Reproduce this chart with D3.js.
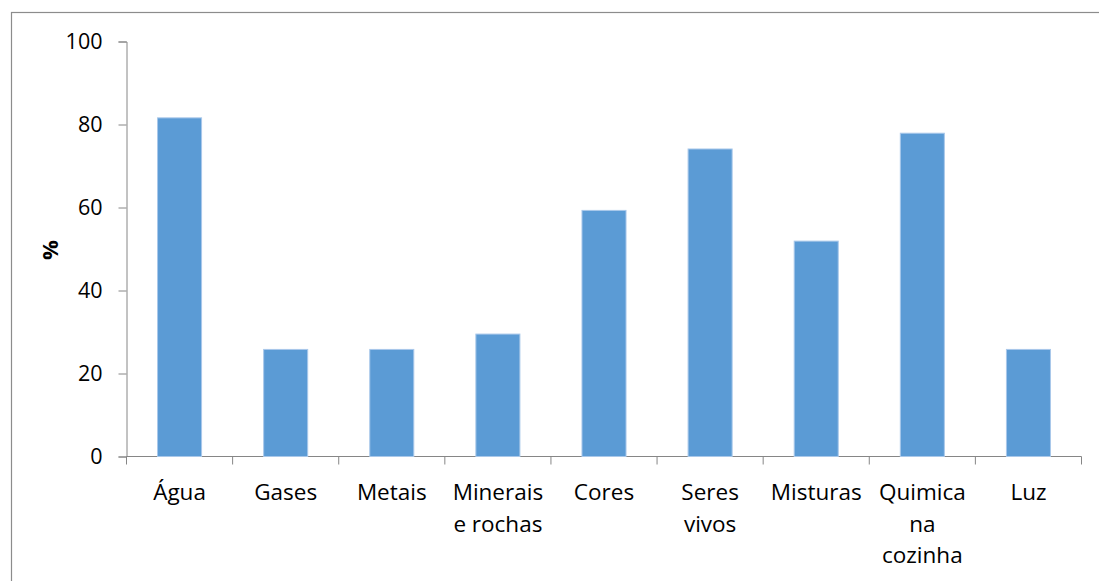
<!DOCTYPE html>
<html><head><meta charset="utf-8">
<script src="https://cdn.jsdelivr.net/npm/d3@7/dist/d3.min.js"></script>
<style>body{margin:0;background:#fff}svg{display:block}text{font-family:"Open Sans","Noto Sans",sans-serif}</style>
</head><body><svg id="c" width="1099" height="581"></svg>
<script>
const categories = ["Água","Gases","Metais","Minerais\ne rochas","Cores","Seres\nvivos","Misturas","Quimica\nna\ncozinha","Luz"];
const values = [81.6, 25.8, 25.8, 29.5, 59.3, 74.1, 51.9, 77.9, 25.8];
const yTicks = [0, 20, 40, 60, 80, 100];
const yLabel = "%";

const svg = d3.select("#c");
svg.append("rect").attr("x",11.5).attr("y",12.5).attr("width",1100).attr("height",600)
  .attr("fill","none").attr("stroke","#8c8c8c").attr("stroke-width",1.2);

const x = d3.scaleBand().domain(categories).range([126.5, 1081.5]).paddingInner(0.585).paddingOuter(0.2925);
const y = d3.scaleLinear().domain([0,100]).range([456.5, 41.5]);

const yAxis = svg.append("g").attr("transform","translate(126.5,0)")
  .call(d3.axisLeft(y).tickValues(yTicks).tickSize(8).tickPadding(16));
yAxis.selectAll("path,line").attr("stroke","#868686");
yAxis.selectAll("text").attr("font-size",21.5).attr("fill","#000");

const xb = d3.scaleBand().domain(categories).range([126.5,1081.5]);
const xAxis = svg.append("g").attr("transform","translate(0,456.5)");
xAxis.append("line").attr("x1",126.5).attr("x2",1081.5).attr("stroke","#868686");
xAxis.selectAll("line.t").data(categories.concat(["_end"])).enter().append("line")
  .attr("x1",(d,i)=> i<categories.length ? xb(d) : 1081.5)
  .attr("x2",(d,i)=> i<categories.length ? xb(d) : 1081.5)
  .attr("y1",0).attr("y2",8).attr("stroke","#868686");

svg.append("g").selectAll("rect").data(categories).enter().append("rect")
  .attr("x", d=>x(d)).attr("width", x.bandwidth())
  .attr("y", (d,i)=>y(values[i])).attr("height",(d,i)=>y(0)-y(values[i]))
  .attr("fill","#5b9bd5").attr("stroke","#a9c8ea").attr("stroke-width",1);

const lbl = svg.append("g").selectAll("text").data(categories).enter().append("text")
  .attr("x", d=>xb(d)+xb.bandwidth()/2).attr("y",500).attr("text-anchor","middle")
  .attr("font-size",22.5).attr("fill","#000");
lbl.each(function(d){
  const t = d3.select(this);
  d.split("\n").forEach((s,i)=>{
    t.append("tspan").attr("x", xb(d)+xb.bandwidth()/2).attr("dy", i===0?0:31.5).text(s);
  });
});

svg.append("text").attr("transform","translate(58,250) rotate(-90)")
  .attr("text-anchor","middle").attr("font-size",22).attr("font-weight","bold").text(yLabel);
</script></body></html>
